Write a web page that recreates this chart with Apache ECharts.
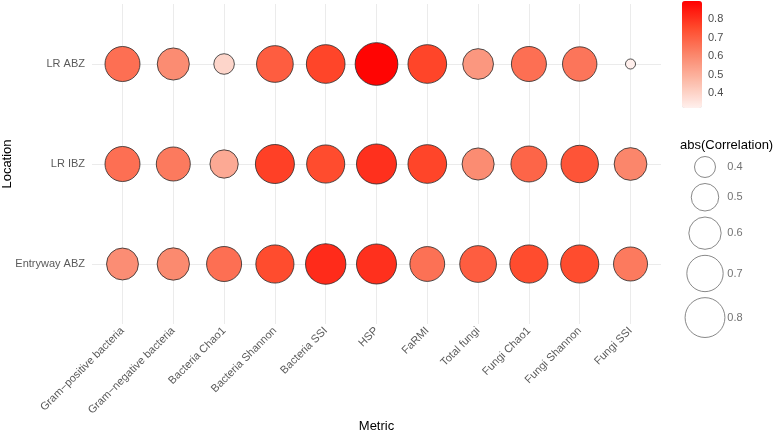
<!DOCTYPE html>
<html>
<head>
<meta charset="utf-8">
<script src="https://cdn.jsdelivr.net/npm/echarts@6/dist/echarts.min.js"></script>
<style>
  html, body { margin: 0; padding: 0; background: #fff; }
  #chart { width: 778px; height: 433px; }
</style>
</head>
<body>
<div id="chart"></div>
<script>
// categories
const metrics = ['Gram\u2212positive bacteria', 'Gram\u2212negative bacteria', 'Bacteria Chao1', 'Bacteria Shannon',
  'Bacteria SSI', 'HSP', 'FaRMI', 'Total fungi', 'Fungi Chao1', 'Fungi Shannon', 'Fungi SSI'];
// bottom to top
const locations = ['Entryway ABZ', 'LR IBZ', 'LR ABZ'];

// abs(correlation) per location, in metric order
const entrywayABZ = [0.59, 0.60, 0.665, 0.75, 0.815, 0.805, 0.66, 0.71, 0.75, 0.75, 0.64];
const lrIBZ       = [0.665, 0.64, 0.515, 0.775, 0.75, 0.805, 0.765, 0.595, 0.69, 0.73, 0.61];
const lrABZ       = [0.665, 0.595, 0.395, 0.71, 0.765, 0.89, 0.765, 0.565, 0.665, 0.65, 0.322];

const sizeLegendValues = [0.4, 0.5, 0.6, 0.7, 0.8];
const colorTicks = [0.4, 0.5, 0.6, 0.7, 0.8];

const vMin = 0.32, vMax = 0.90;
const font = '"Liberation Sans", Arial, Helvetica, sans-serif';

// ggplot-like area scale: diameter grows with sqrt of rescaled value
function diameter(v) {
  const t = Math.max(0, (v - vMin) / (vMax - vMin));
  return 8 + 35 * Math.sqrt(t);
}

const rows = [entrywayABZ, lrIBZ, lrABZ];
const points = [];
rows.forEach((vals, yi) => {
  vals.forEach((v, xi) => points.push([xi, yi, v]));
});

// stack size-legend keys like ggplot does
const keyData = [];
let pos = 167;
sizeLegendValues.forEach((v, i) => {
  if (i > 0) pos += (diameter(sizeLegendValues[i - 1]) + diameter(v)) / 2 + 6;
  keyData.push([0.5, pos, v]);
});

const chart = echarts.init(document.getElementById('chart'));

chart.setOption({
  backgroundColor: '#fff',
  textStyle: { fontFamily: font },
  title: {
    text: 'abs(Correlation)',
    left: 680,
    top: 139,
    padding: 0,
    textStyle: { fontSize: 13, fontWeight: 'normal', color: '#000', fontFamily: font }
  },
  grid: [
    { left: 92, top: 4, width: 569, height: 320, containLabel: false, outerBoundsMode: 'none' },
    { left: 682, top: 1, width: 20, height: 107, containLabel: false, outerBoundsMode: 'none' },
    { left: 690, top: 0, width: 30, height: 433, containLabel: false, outerBoundsMode: 'none' }
  ],
  xAxis: [
    {
      gridIndex: 0,
      type: 'value',
      min: -0.6,
      max: metrics.length - 1 + 0.6,
      name: 'Metric',
      nameLocation: 'middle',
      nameGap: 96,
      nameMoveOverlap: false,
      nameTextStyle: { fontSize: 13, color: '#000', fontFamily: font },
      axisLine: { show: false },
      axisTick: { show: false, customValues: metrics.map((m, i) => i) },
      axisLabel: {
        customValues: metrics.map((m, i) => i),
        formatter: v => metrics[Math.round(v)] || '',
        rotate: 45,
        margin: 5,
        fontSize: 11,
        color: '#5a5a5a',
        fontFamily: font
      },
      splitLine: { show: true, lineStyle: { color: '#ebebeb', width: 1 } }
    },
    { gridIndex: 1, type: 'value', show: false, min: 0, max: 1 },
    { gridIndex: 2, type: 'value', show: false, min: 0, max: 1 }
  ],
  yAxis: [
    {
      gridIndex: 0,
      type: 'value',
      min: -0.6,
      max: locations.length - 1 + 0.6,
      name: 'Location',
      nameLocation: 'middle',
      nameGap: 78,
      nameMoveOverlap: false,
      nameTextStyle: { fontSize: 13, color: '#000', fontFamily: font },
      axisLine: { show: false },
      axisTick: { show: false, customValues: locations.map((l, i) => i) },
      axisLabel: {
        customValues: locations.map((l, i) => i),
        formatter: v => locations[Math.round(v)] || '',
        margin: 7,
        fontSize: 11,
        color: '#5a5a5a',
        fontFamily: font
      },
      splitLine: { show: true, lineStyle: { color: '#ebebeb', width: 1 } }
    },
    {
      gridIndex: 1,
      type: 'value',
      min: vMin,
      max: vMax,
      position: 'right',
      z: 10,
      axisLine: { show: false },
      axisTick: {
        show: true,
        inside: true,
        length: 4,
        customValues: colorTicks,
        lineStyle: { color: '#fff', width: 1, opacity: 0.7 }
      },
      axisLabel: {
        customValues: colorTicks,
        formatter: v => v.toFixed(1),
        margin: 6,
        fontSize: 11,
        color: '#4d4d4d',
        fontFamily: font
      },
      splitLine: { show: false }
    },
    { gridIndex: 2, type: 'value', show: false, min: 0, max: 433, inverse: true }
  ],
  visualMap: {
    type: 'continuous',
    seriesIndex: 0,
    dimension: 2,
    min: vMin,
    max: vMax,
    left: 682,
    top: 1,
    padding: 0,
    itemWidth: 20,
    itemHeight: 107,
    calculable: false,
    text: ['', ''],
    showLabel: false,
    inRange: { color: ['#fff0ed', '#fcbcaa', '#fb866b', '#ff4a2c', '#ff0000'] }
  },
  series: [
    {
      type: 'scatter',
      xAxisIndex: 0,
      yAxisIndex: 0,
      data: points,
      symbolSize: d => diameter(d[2]),
      itemStyle: { borderColor: 'rgba(40,40,40,0.8)', borderWidth: 1, opacity: 1 },
      emphasis: { disabled: true },
      z: 3
    },
    {
      type: 'scatter',
      xAxisIndex: 2,
      yAxisIndex: 2,
      data: keyData,
      symbolSize: d => diameter(d[2]),
      itemStyle: { color: '#fff', borderColor: '#6b6b6b', borderWidth: 1 },
      label: {
        show: true,
        position: 'inside',
        offset: [30, 0],
        formatter: p => p.data[2].toFixed(1),
        fontSize: 11,
        color: '#4d4d4d',
        fontFamily: font
      },
      emphasis: { disabled: true },
      silent: true
    }
  ]
});
</script>
</body>
</html>
